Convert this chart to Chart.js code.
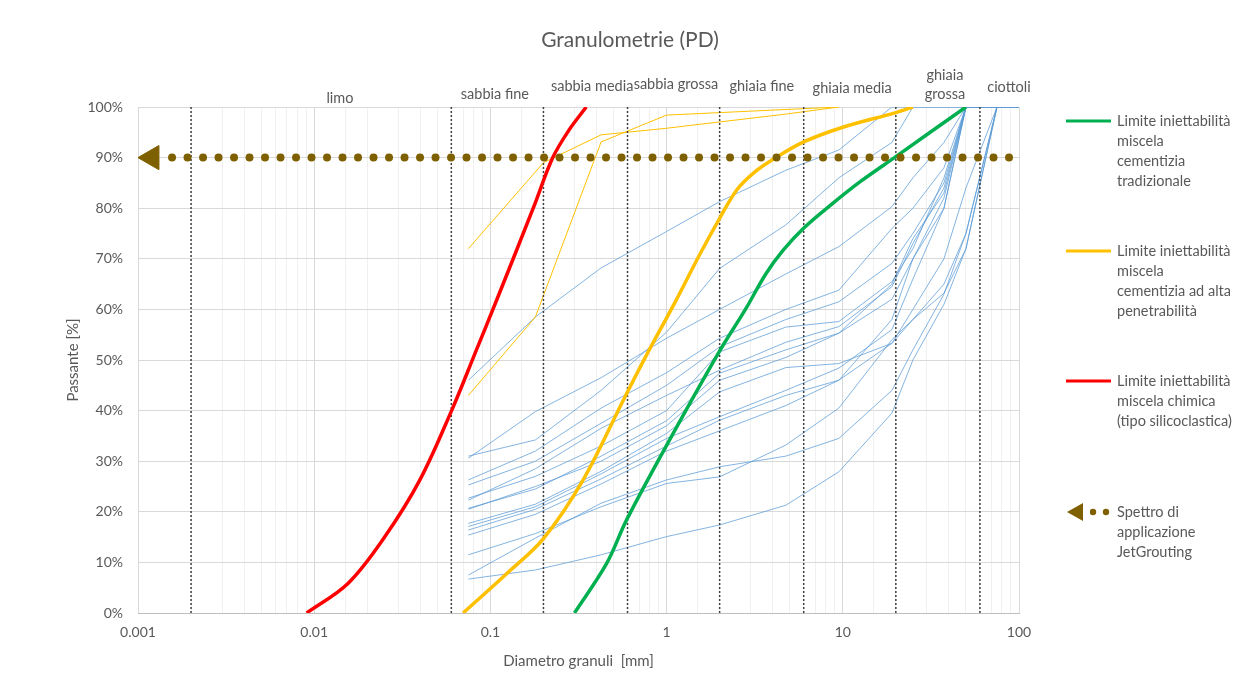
<!DOCTYPE html>
<html>
<head>
<meta charset="utf-8">
<title>Granulometrie (PD)</title>
<script src="https://cdn.jsdelivr.net/npm/chart.js@4.4.1/dist/chart.umd.min.js"></script>
<style>
    html, body { margin: 0; background: #fff; }
    #wrap { width: 1248px; height: 686px; position: relative; }
</style>
</head>
<body>
<div id="wrap"><canvas id="granChart"></canvas></div>
<script>
// sieve sizes (mm) used by the sample curves
const sieves = [0.075, 0.18, 0.425, 1, 2, 4.75, 9.5, 19, 25, 37.5, 50, 75, 100];

// passing % of each sample at the sieves above
const blue01 = [46, 58.5, 68.2, 75.4, 81.3, 87.5, 91.5, 100, 100, 100, 100, 100, 100];
const blue02 = [31, 34.2, 44, 55.5, 68.1, 76.7, 86, 93, 100, 100, 100, 100, 100];
const blue03 = [30.6, 39.8, 46.5, 54.3, 60, 67, 72.4, 80.3, 86, 93, 100, 100, 100];
const blue04 = [26.3, 32, 40.5, 47.5, 54.3, 60, 63.8, 76, 80, 88, 100, 100, 100];
const blue05 = [25.3, 30, 37.5, 45, 52.6, 58, 61.5, 69.1, 75, 85, 100, 100, 100];
const blue06 = [22.7, 27, 33, 40, 51.6, 56.5, 57.6, 65.5, 72, 86, 100, 100, 100];
const blue07 = [22.3, 28.5, 36.5, 43, 48, 53.5, 56.6, 64.5, 73, 84, 100, 100, 100];
const blue08 = [20.7, 24.5, 31, 38, 47.4, 52, 55.3, 65, 74, 83, 100, 100, 100];
const blue09 = [20.5, 25, 30, 37, 46, 50.5, 55.3, 62, 70, 80, 100, 100, 100];
const blue10 = [17.7, 21.5, 28, 35.5, 43.7, 48.5, 49.3, 53.3, 60, 70, 84, 100, 100];
const blue11 = [17.1, 21, 27.5, 34.5, 38.8, 44, 48.4, 56, 66, 80, 100, 100, 100];
const blue12 = [16.4, 20.5, 26.5, 33, 38.1, 43, 46, 53.3, 58, 65, 75, 100, 100];
const blue13 = [15.4, 19.5, 25.5, 32, 36, 41, 46, 58, 70, 82, 100, 100, 100];
const blue14 = [11.5, 15.7, 21, 25.6, 26.9, 33.2, 40.5, 54, 58, 63.2, 72, 100, 100];
const blue15 = [7.5, 14.8, 21.7, 26.3, 28.9, 31, 34.5, 44, 52, 63, 75, 100, 100];
const blue16 = [6.7, 8.5, 11.5, 15.1, 17.4, 21.3, 27.9, 39.5, 50, 61, 72, 100, 100];
const blueSamples = [blue01, blue02, blue03, blue04, blue05, blue06, blue07, blue08,
                     blue09, blue10, blue11, blue12, blue13, blue14, blue15, blue16];

// thin yellow samples
const thinAX = [0.075, 0.2, 0.425, 1, 4.75, 9.5];
const thinAY = [72, 89, 94.5, 95.8, 98.6, 100];
const thinBX = [0.075, 0.18, 0.425, 1, 9.5];
const thinBY = [43, 58.5, 93.1, 98.4, 100];

// injectability limits
const greenX = [0.3, 0.457, 0.593, 1.09, 2.01, 2.79, 3.67, 4.59, 5.97, 8.8, 12.5, 20, 50];
const greenY = [0, 9.8, 18.4, 35.5, 51.9, 59.9, 67.1, 71.7, 76, 81, 85.2, 90.2, 100];
const yellowX = [0.07, 0.124, 0.2, 0.336, 0.567, 0.77, 1.12, 1.55, 2.0, 2.5, 3.1, 4.13, 6, 10, 20, 25];
const yellowY = [0, 7.8, 14.7, 26.3, 42, 51, 61.5, 71, 78, 83.6, 86.9, 89.9, 93.1, 96, 98.9, 100];
const redX = [0.00906, 0.0156, 0.0252, 0.0398, 0.0604, 0.0818, 0.109, 0.175, 0.226, 0.28, 0.35];
const redY = [0, 5.9, 15.1, 26.3, 40.1, 51.3, 62, 80, 90, 95.5, 100];

// jet grouting range
const jetX = [0.00156, 88.5];
const jetY = [90, 90];
const jetArrow = [0.0012, 90];

// soil class boundaries and labels
const boundaries = [0.002, 0.06, 0.2, 0.6, 2, 6, 20, 60];
const zoneNames = ['limo', 'sabbia fine', 'sabbia media', 'sabbia grossa', 'ghiaia fine', 'ghiaia media', ['ghiaia', 'grossa'], 'ciottoli'];
const zoneLabelAt = [0.014, 0.106, 0.378, 1.13, 3.47, 11.3, 38, 87.7];

const legendText = [
    ['Limite iniettabilità', 'miscela', 'cementizia', 'tradizionale'],
    ['Limite iniettabilità', 'miscela', 'cementizia ad alta', 'penetrabilità'],
    ['Limite iniettabilità', 'miscela chimica', '(tipo silicoclastica)'],
    ['Spettro di', 'applicazione', 'JetGrouting']
];
const chartTitle = 'Granulometrie (PD)';

const GREEN = '#00b050', YELLOW = '#ffc000', RED = '#ff0000', JET = '#7f6000';
const TEXT = '#595959';
const FONT = 'Lato, "Open Sans", sans-serif';

function pts(xs, ys) {
    return xs.map((x, i) => ({ x: x, y: ys[i] }));
}

function isDecade(v) {
    const l = Math.log10(v);
    return Math.abs(l - Math.round(l)) < 1e-6;
}

const datasets = [];

datasets.push({
    label: 'jet', data: pts(jetX, jetY), showLine: true, borderColor: JET,
    borderWidth: 8, borderDash: [0, 15.5], borderCapStyle: 'round', pointRadius: 0, order: 0
});
datasets.push({
    label: 'jetArrow', data: [{ x: jetArrow[0], y: jetArrow[1] }], pointStyle: 'triangle',
    pointRotation: 270, pointRadius: 14, backgroundColor: JET, borderColor: JET, order: 0
});
datasets.push({ label: 'green', data: pts(greenX, greenY), showLine: true, borderColor: GREEN, borderWidth: 3.5, pointRadius: 0, tension: 0.35, order: 1 });
datasets.push({ label: 'yellow', data: pts(yellowX, yellowY), showLine: true, borderColor: YELLOW, borderWidth: 3.5, pointRadius: 0, tension: 0.35, order: 1 });
datasets.push({ label: 'red', data: pts(redX, redY), showLine: true, borderColor: RED, borderWidth: 3.5, pointRadius: 0, tension: 0.35, order: 1 });

boundaries.forEach(b => {
    datasets.push({
        label: 'b' + b, data: [{ x: b, y: 0 }, { x: b, y: 100 }], showLine: true,
        borderColor: '#404040', borderWidth: 1.5, borderDash: [2, 2], pointRadius: 0, order: 2
    });
});

datasets.push({ label: 'thinA', data: pts(thinAX, thinAY), showLine: true, borderColor: YELLOW, borderWidth: 1, pointRadius: 0, order: 3 });
datasets.push({ label: 'thinB', data: pts(thinBX, thinBY), showLine: true, borderColor: YELLOW, borderWidth: 1, pointRadius: 0, order: 3 });

blueSamples.forEach((s, i) => {
    datasets.push({
        label: 'campione ' + (i + 1), data: pts(sieves, s), showLine: true,
        borderColor: 'rgba(91,155,213,0.75)', borderWidth: 1, pointRadius: 0, order: 4
    });
});

const labelsPlugin = {
    id: 'labelsPlugin',
    afterDraw(chart) {
        const ctx = chart.ctx;
        const xs = chart.scales.x;
        ctx.save();
        ctx.fillStyle = TEXT;
        ctx.textAlign = 'center';
        ctx.textBaseline = 'middle';

        ctx.font = '21px ' + FONT;
        ctx.fillText(chartTitle, 630, 40);

        // zone names above the plot
        const zoneY = [98, 94, 86, 84, 86, 88, 75, 87];
        ctx.font = '14.5px ' + FONT;
        zoneNames.forEach((name, i) => {
            const px = xs.getPixelForValue(zoneLabelAt[i]);
            if (Array.isArray(name)) {
                name.forEach((t, k) => ctx.fillText(t, px, zoneY[i] + k * 19));
            } else {
                ctx.fillText(name, px, zoneY[i]);
            }
        });

        // legend on the right
        const itemY = [121, 251, 381, 512];
        const colors = [GREEN, YELLOW, RED, JET];
        ctx.textAlign = 'left';
        ctx.font = '14.5px ' + FONT;
        legendText.forEach((lines, i) => {
            const y = itemY[i];
            if (i < 3) {
                ctx.strokeStyle = colors[i];
                ctx.lineWidth = 3;
                ctx.beginPath();
                ctx.moveTo(1066, y);
                ctx.lineTo(1111, y);
                ctx.stroke();
            } else {
                ctx.fillStyle = JET;
                ctx.beginPath();
                ctx.moveTo(1067, y);
                ctx.lineTo(1083, y - 9);
                ctx.lineTo(1083, y + 9);
                ctx.closePath();
                ctx.fill();
                [1093, 1106].forEach(dx => {
                    ctx.beginPath();
                    ctx.arc(dx, y, 3.2, 0, Math.PI * 2);
                    ctx.fill();
                });
            }
            ctx.fillStyle = TEXT;
            lines.forEach((t, k) => ctx.fillText(t, 1117, y + k * 20));
        });
        ctx.restore();
    }
};

window.onload = function() {
    const ctx = document.getElementById('granChart').getContext('2d');
    new Chart(ctx, {
        type: 'scatter',
        data: { datasets: datasets },
        options: {
            responsive: true,
            maintainAspectRatio: false,
            animation: false,
            layout: { padding: { top: 107, right: 229, left: 0, bottom: 0 } },
            plugins: {
                legend: { display: false },
                tooltip: { enabled: false },
                title: { display: false }
            },
            scales: {
                x: {
                    type: 'logarithmic',
                    min: 0.001,
                    max: 100,
                    afterFit(scale) { scale.height = 73; },
                    border: { color: '#bfbfbf', width: 1 },
                    grid: {
                        drawTicks: false,
                        color: c => (c.tick && isDecade(c.tick.value)) ? '#d9d9d9' : '#f0f0f0',
                        lineWidth: 1
                    },
                    ticks: {
                        autoSkip: false,
                        maxRotation: 0,
                        padding: 11,
                        color: TEXT,
                        font: { family: FONT, size: 14 },
                        callback: v => isDecade(v) ? String(v) : ''
                    },
                    title: {
                        display: true,
                        text: 'Diametro granuli  [mm]',
                        color: TEXT,
                        font: { family: FONT, size: 15 },
                        padding: { top: 0, bottom: 16 }
                    }
                },
                y: {
                    min: 0,
                    max: 100,
                    afterFit(scale) { scale.width = 138; },
                    border: { display: false },
                    grid: { drawTicks: false, color: '#d9d9d9', lineWidth: 1 },
                    ticks: {
                        stepSize: 10,
                        padding: 15,
                        color: TEXT,
                        font: { family: FONT, size: 14 },
                        callback: v => v + '%'
                    },
                    title: {
                        display: true,
                        text: 'Passante [%]',
                        color: TEXT,
                        font: { family: FONT, size: 15 },
                        padding: { top: 64, bottom: 0 }
                    }
                }
            }
        },
        plugins: [labelsPlugin]
    });
};
</script>
</body>
</html>
